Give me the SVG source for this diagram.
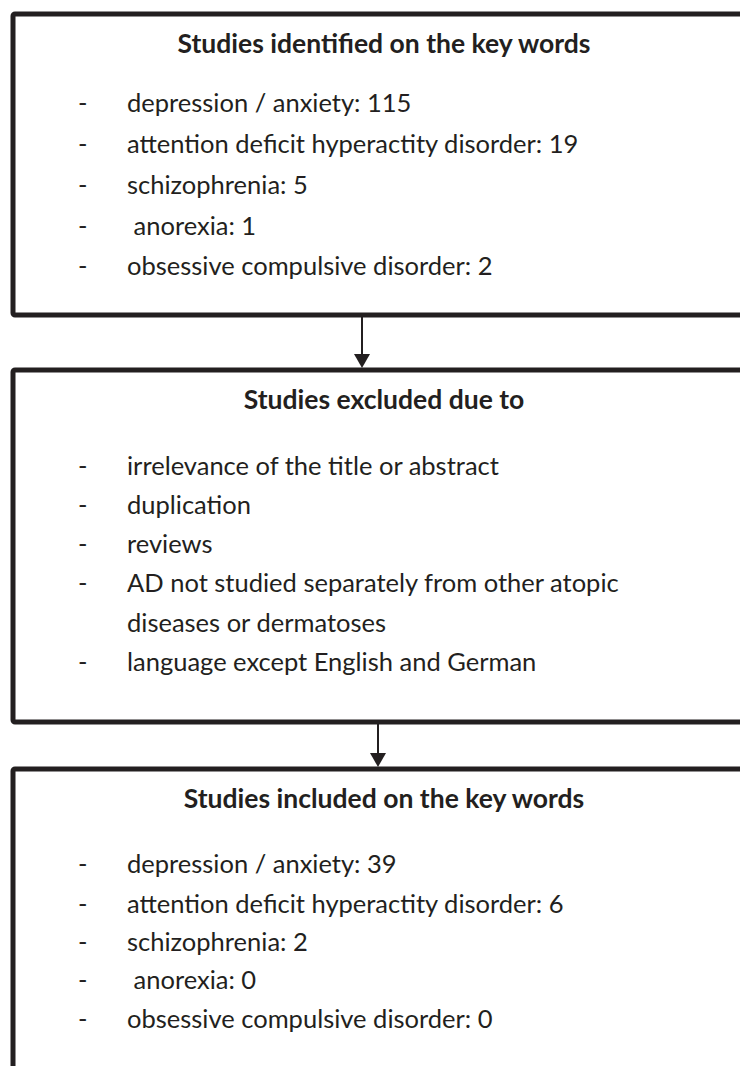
<svg xmlns="http://www.w3.org/2000/svg" width="740" height="1066" viewBox="0 0 740 1066">
<defs>
<style>
.box{fill:#fff;stroke:#231f20;stroke-width:5;}
.t{font-family:Lato,"Open Sans","Liberation Sans",sans-serif;font-size:25.5px;fill:#231f20;}
.h{font-weight:bold;font-size:26.5px;text-anchor:middle;}
.conn{stroke:#231f20;stroke-width:2;fill:none;}
.head{fill:#231f20;}
</style>
</defs>
<rect width="740" height="1066" fill="#fff"/>
<g id="connectors">
<line class="conn" x1="362" y1="317" x2="362" y2="354"/>
<path class="head" d="M354,354 L370,354 L362,368 Z"/>
<line class="conn" x1="378" y1="724" x2="378" y2="753"/>
<path class="head" d="M370,753 L386,753 L378,767 Z"/>
</g>
<g id="identified">
<rect class="box" x="13" y="14" width="760" height="301" rx="2"/>
<text class="t h" x="384" y="53">Studies identified on the key words</text>
<text class="t" x="78" y="112">-</text><text class="t" x="127" y="112">depression / anxiety: 115</text>
<text class="t" x="78" y="153">-</text><text class="t" x="127" y="153">attention deficit hyperactity disorder: 19</text>
<text class="t" x="78" y="194">-</text><text class="t" x="127" y="194">schizophrenia: 5</text>
<text class="t" x="78" y="235">-</text><text class="t" x="127" y="235" xml:space="preserve"> anorexia: 1</text>
<text class="t" x="78" y="275">-</text><text class="t" x="127" y="275">obsessive compulsive disorder: 2</text>
</g>
<g id="excluded">
<rect class="box" x="13" y="370" width="760" height="352" rx="2"/>
<text class="t h" x="384" y="409">Studies excluded due to</text>
<text class="t" x="78" y="475">-</text><text class="t" x="127" y="475">irrelevance of the title or abstract</text>
<text class="t" x="78" y="514">-</text><text class="t" x="127" y="514">duplication</text>
<text class="t" x="78" y="553">-</text><text class="t" x="127" y="553">reviews</text>
<text class="t" x="78" y="592">-</text><text class="t" x="127" y="592">AD not studied separately from other atopic</text>
<text class="t" x="127" y="632">diseases or dermatoses</text>
<text class="t" x="78" y="671">-</text><text class="t" x="127" y="671">language except English and German</text>
</g>
<g id="included">
<rect class="box" x="13" y="769" width="760" height="340" rx="2"/>
<text class="t h" x="384" y="808">Studies included on the key words</text>
<text class="t" x="78" y="873">-</text><text class="t" x="127" y="873">depression / anxiety: 39</text>
<text class="t" x="78" y="913">-</text><text class="t" x="127" y="913">attention deficit hyperactity disorder: 6</text>
<text class="t" x="78" y="951">-</text><text class="t" x="127" y="951">schizophrenia: 2</text>
<text class="t" x="78" y="989">-</text><text class="t" x="127" y="989" xml:space="preserve"> anorexia: 0</text>
<text class="t" x="78" y="1028">-</text><text class="t" x="127" y="1028">obsessive compulsive disorder: 0</text>
</g>
</svg>
